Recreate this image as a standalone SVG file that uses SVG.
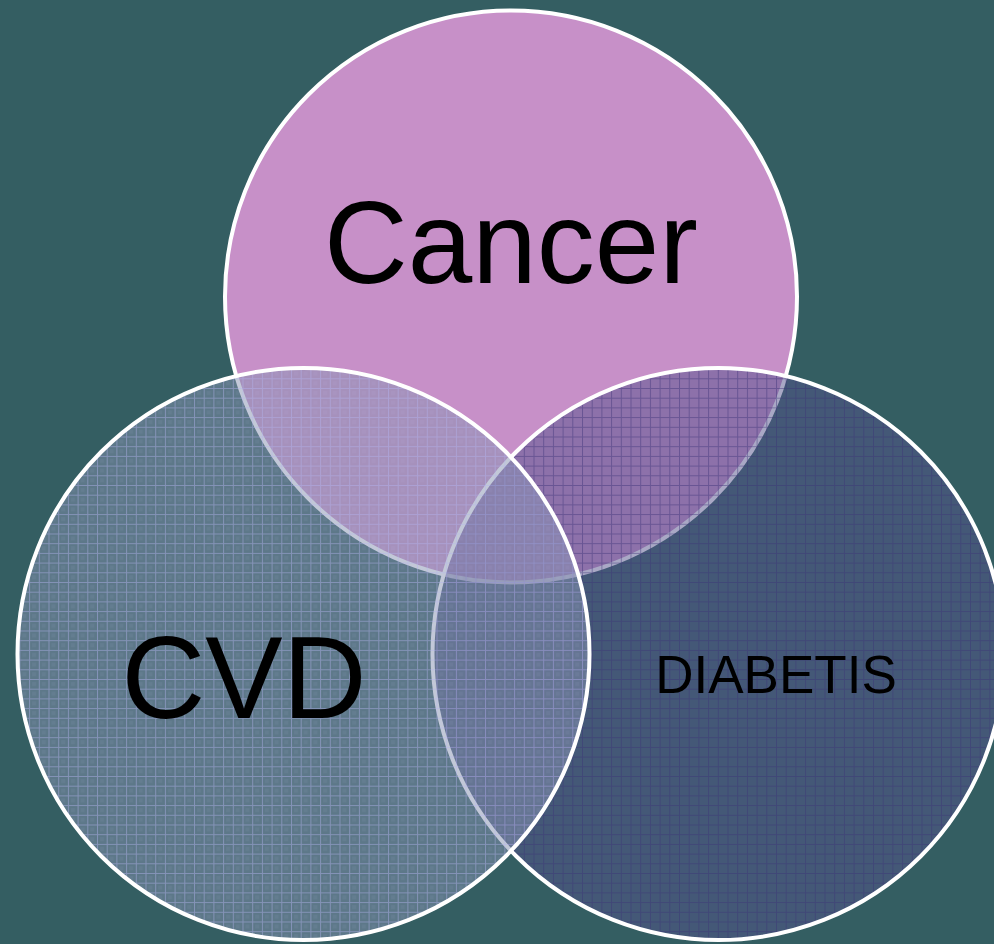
<svg xmlns="http://www.w3.org/2000/svg" width="994" height="944" viewBox="0 0 994 944">
  <defs>
    <style>
      .ring { stroke: #ffffff; stroke-width: 4; }
      .label { font-family: "Liberation Sans", Arial, sans-serif; fill: #000000; text-anchor: middle; }
    </style>
    <pattern id="gridCvd" patternUnits="userSpaceOnUse" width="9.7" height="9.7">
      <path d="M0 0.5 H9.7 M0.5 0 V9.7" stroke="#b4b4f0" stroke-opacity="0.45" stroke-width="1" fill="none"/>
      <rect x="3" y="3" width="4" height="4" fill="#c0c0ff" fill-opacity="0.06"/>
    </pattern>
    <pattern id="gridDia" patternUnits="userSpaceOnUse" width="9.7" height="9.7">
      <path d="M0 0.5 H9.7 M0.5 0 V9.7" stroke="#3c3278" stroke-opacity="0.45" stroke-width="1" fill="none"/>
    </pattern>
  </defs>
  <rect x="0" y="0" width="994" height="944" fill="#345e62"/>
  <g id="connectors"/>
  <g id="node-cancer">
    <circle class="ring" cx="511" cy="296.5" r="286" fill="#c790c8"/>
    <text class="label" x="511" y="283" font-size="116">Cancer</text>
  </g>
  <g id="node-diabetis">
    <circle cx="718.5" cy="654" r="286" fill="#53518c" fill-opacity="0.5"/>
    <circle cx="718.5" cy="654" r="286" fill="url(#gridDia)"/>
    <circle class="ring" cx="718.5" cy="654" r="286" fill="none"/>
    <text class="label" x="776" y="693" font-size="53">DIABETIS</text>
  </g>
  <g id="node-cvd">
    <circle cx="303.5" cy="654" r="286" fill="#8692b0" fill-opacity="0.5"/>
    <circle cx="303.5" cy="654" r="286" fill="url(#gridCvd)"/>
    <circle class="ring" cx="303.5" cy="654" r="286" fill="none"/>
    <text class="label" x="244" y="718" font-size="116">CVD</text>
  </g>
</svg>
